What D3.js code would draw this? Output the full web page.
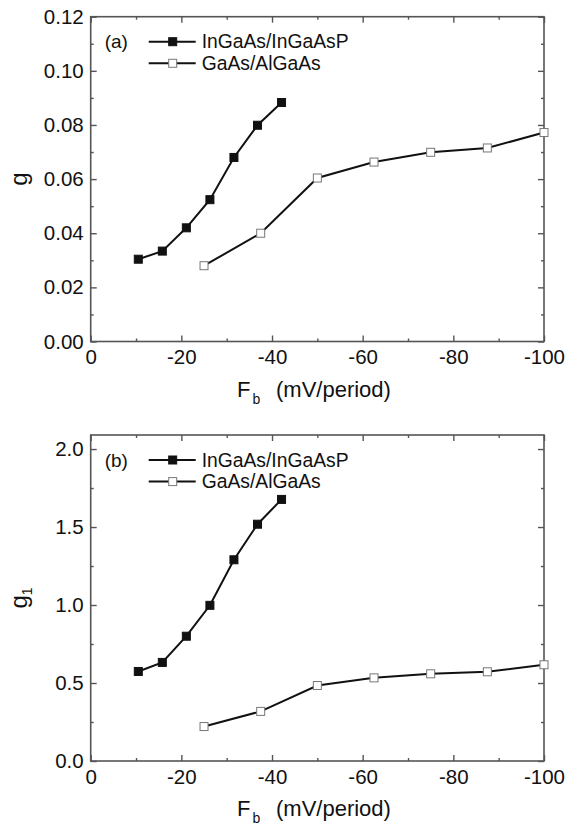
<!DOCTYPE html>
<html>
<head>
<meta charset="utf-8">
<script src="https://cdn.jsdelivr.net/npm/d3@7"></script>
<style>
  body { margin: 0; background: #fff; }
  text { font-family: "Liberation Sans", Arial, sans-serif; fill: #111; }
</style>
</head>
<body>
<svg id="chart" width="566" height="832"></svg>
<script>
"use strict";

// field values (mV/period)
const fieldInGaAs = [-10.5, -15.8, -21.1, -26.3, -31.6, -36.8, -42.1];
const fieldGaAs = [-25, -37.5, -50, -62.5, -75, -87.5, -100];

// panel (a): g
const gInGaAs = [0.0304, 0.0334, 0.042, 0.0524, 0.068, 0.0799, 0.0883];
const gGaAs = [0.028, 0.04, 0.0604, 0.0663, 0.0699, 0.0715, 0.0772];

// panel (b): g1
const g1InGaAs = [0.574, 0.632, 0.8, 0.998, 1.29, 1.518, 1.677];
const g1GaAs = [0.221, 0.318, 0.484, 0.533, 0.559, 0.572, 0.617];

const seriesNames = ["InGaAs/InGaAsP", "GaAs/AlGaAs"];
const xTicks = [0, -20, -40, -60, -80, -100];
const xMinor = [-10, -30, -50, -70, -90];

const svg = d3.select("#chart");

function drawPanel(opt) {
  const g = svg.append("g");
  const x = d3.scaleLinear().domain([0, -100]).range([opt.left, opt.right]);
  const y = d3.scaleLinear().domain(opt.yDomain).range([opt.bottom, opt.top]);

  const frame = "#555";

  // major + minor ticks, inward on all sides
  const addAxis = (axis, tr, labels) => {
    const a = g.append("g").attr("transform", tr).call(axis);
    a.select(".domain").remove();
    a.selectAll(".tick line").attr("stroke", frame).attr("stroke-width", 1.4);
    if (!labels) a.selectAll(".tick text").remove();
    else a.selectAll(".tick text").attr("font-size", 20.5).attr("fill", "#111");
    return a;
  };

  // plain hyphen for negatives, like the original
  const xFormat = (d) => String(d);

  addAxis(d3.axisBottom(x).tickValues(xTicks).tickSize(-6).tickPadding(8).tickFormat(xFormat),
    `translate(0,${opt.bottom})`, true);
  addAxis(d3.axisBottom(x).tickValues(xMinor).tickSize(-3), `translate(0,${opt.bottom})`, false);
  addAxis(d3.axisTop(x).tickValues(xTicks).tickSize(-6), `translate(0,${opt.top})`, false);
  addAxis(d3.axisTop(x).tickValues(xMinor).tickSize(-3), `translate(0,${opt.top})`, false);

  addAxis(d3.axisLeft(y).tickValues(opt.yTicks).tickSize(-6).tickPadding(7).tickFormat(opt.yFormat),
    `translate(${opt.left},0)`, true);
  addAxis(d3.axisLeft(y).tickValues(opt.yMinor).tickSize(-3), `translate(${opt.left},0)`, false);
  addAxis(d3.axisRight(y).tickValues(opt.yTicks).tickSize(-6), `translate(${opt.right},0)`, false);
  addAxis(d3.axisRight(y).tickValues(opt.yMinor).tickSize(-3), `translate(${opt.right},0)`, false);

  g.append("rect")
    .attr("x", opt.left)
    .attr("y", opt.top)
    .attr("width", opt.right - opt.left)
    .attr("height", opt.bottom - opt.top)
    .attr("fill", "none")
    .attr("stroke", frame)
    .attr("stroke-width", 1.6);

  const line = d3.line().x((d) => x(d[0])).y((d) => y(d[1]));

  const series = [
    { pts: d3.zip(fieldInGaAs, opt.vInGaAs), filled: true },
    { pts: d3.zip(fieldGaAs, opt.vGaAs), filled: false },
  ];

  series.forEach((s) => {
    g.append("path")
      .attr("d", line(s.pts))
      .attr("fill", "none")
      .attr("stroke", "#111")
      .attr("stroke-width", 2);

    g.selectAll(null)
      .data(s.pts)
      .enter()
      .append("rect")
      .attr("x", (d) => x(d[0]) - 4)
      .attr("y", (d) => y(d[1]) - 4)
      .attr("width", 8)
      .attr("height", 8)
      .attr("fill", s.filled ? "#111" : "#fff")
      .attr("stroke", s.filled ? "#111" : "#777")
      .attr("stroke-width", 1);
  });

  // panel tag + legend
  g.append("text")
    .attr("x", opt.left + 14)
    .attr("y", opt.top + 25)
    .attr("dy", "0.35em")
    .attr("font-size", 19)
    .text(opt.tag);

  series.forEach((s, i) => {
    const ly = opt.top + 25 + i * 21.6;
    g.append("line")
      .attr("x1", opt.left + 58)
      .attr("x2", opt.left + 105)
      .attr("y1", ly)
      .attr("y2", ly)
      .attr("stroke", "#111")
      .attr("stroke-width", 2);
    g.append("rect")
      .attr("x", opt.left + 82 - 4)
      .attr("y", ly - 4)
      .attr("width", 8)
      .attr("height", 8)
      .attr("fill", s.filled ? "#111" : "#fff")
      .attr("stroke", s.filled ? "#111" : "#777");
    g.append("text")
      .attr("x", opt.left + 111)
      .attr("y", ly)
      .attr("dy", "0.35em")
      .attr("font-size", 19.3)
      .text(seriesNames[i]);
  });

  // x title
  const xt = g.append("text")
    .attr("x", 237)
    .attr("y", opt.bottom + 55)
    .attr("font-size", 22);
  xt.append("tspan").text("F");
  xt.append("tspan").attr("font-size", 14).attr("dy", 7).attr("dx", 2).text("b");
  xt.append("tspan").attr("x", 276).attr("dy", -7).text("(mV/period)");

  // y title
  const yt = g.append("text")
    .attr("transform", `translate(27,${(opt.top + opt.bottom) / 2}) rotate(-90)`)
    .attr("text-anchor", "middle")
    .attr("font-size", 24);
  yt.append("tspan").text("g");
  if (opt.ySub) {
    yt.append("tspan").attr("font-size", 14).attr("dy", 5).text(opt.ySub);
  }
}

drawPanel({
  tag: "(a)",
  left: 90.7, right: 544, top: 16.7, bottom: 341.5,
  yDomain: [0, 0.12],
  yTicks: [0, 0.02, 0.04, 0.06, 0.08, 0.1, 0.12],
  yMinor: [0.01, 0.03, 0.05, 0.07, 0.09, 0.11],
  yFormat: d3.format(".2f"),
  vInGaAs: gInGaAs, vGaAs: gGaAs,
  ySub: null,
});

drawPanel({
  tag: "(b)",
  left: 90.7, right: 544, top: 435, bottom: 761,
  yDomain: [0, 2.09],
  yTicks: [0, 0.5, 1, 1.5, 2],
  yMinor: [0.25, 0.75, 1.25, 1.75],
  yFormat: d3.format(".1f"),
  vInGaAs: g1InGaAs, vGaAs: g1GaAs,
  ySub: "1",
});
</script>
</body>
</html>
